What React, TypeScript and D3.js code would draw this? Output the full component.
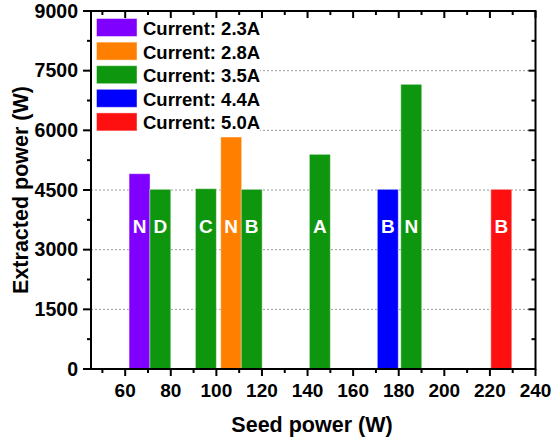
import React from 'react';
import * as d3 from 'd3';

const seedPower = [66.3, 75.4, 95.4, 106.5, 115.5, 145.4, 175.2, 185.5, 225];
const extractedPower = [4910, 4517, 4533, 5832, 4517, 5397, 4517, 7157, 4517];
const barCurrent = ['2.3A', '3.5A', '3.5A', '2.8A', '3.5A', '3.5A', '4.4A', '3.5A', '5.0A'];
const barLabels = ['N', 'D', 'C', 'N', 'B', 'A', 'B', 'N', 'B'];
const legendCurrents = ['2.3A', '2.8A', '3.5A', '4.4A', '5.0A'];
const legendColors = ['#8000FF', '#FF8000', '#0E960E', '#0000FF', '#FF1010'];
const xMajorTicks = [60, 80, 100, 120, 140, 160, 180, 200, 220, 240];
const xMinorTicks = [50, 70, 90, 110, 130, 150, 170, 190, 210, 230];
const yMajorTicks = [0, 1500, 3000, 4500, 6000, 7500, 9000];
const yMinorTicks = [750, 2250, 3750, 5250, 6750, 8250];
const gridValues = [1500, 3000, 4500, 6000, 7500];

const FONT = '"Liberation Sans", Arial, Helvetica, sans-serif';

export default function App() {
  const W = 554, H = 444;
  const L = 91, R = 535.5, T = 11, B = 369;
  const x = d3.scaleLinear().domain([45, 240]).range([L, R]);
  const y = d3.scaleLinear().domain([0, 9000]).range([B, T]);
  const color = d3.scaleOrdinal<string, string>().domain(legendCurrents).range(legendColors);
  const halfW = 4.6;

  return (
    <svg width={W} height={H} style={{ position: 'absolute', left: 0, top: 0, background: '#fff' }} fontFamily={FONT}>
      {gridValues.map(v => (
        <line key={'g' + v} x1={L} x2={R} y1={y(v)} y2={y(v)} stroke="#999" strokeWidth={1} strokeDasharray="2,2" />
      ))}
      <rect x={L + 1} y={T + 1} width={168} height={122} fill="#fff" />
      {seedPower.map((s, i) => (
        <rect key={'b' + i} x={x(s - halfW)} y={y(extractedPower[i])} width={x(s + halfW) - x(s - halfW)}
          height={y(0) - y(extractedPower[i])} fill={color(barCurrent[i])} stroke="rgba(255,255,255,0.45)" strokeWidth={1} />
      ))}
      {seedPower.map((s, i) => (
        <text key={'l' + i} x={x(s)} y={y(3420)} fill="#fff" fontSize={19} fontWeight="bold" textAnchor="middle">{barLabels[i]}</text>
      ))}
      {legendCurrents.map((c, i) => (
        <g key={'lg' + c} transform={`translate(0, ${18.5 + i * 23.6})`}>
          <rect x={96.5} y={0} width={40.5} height={18} fill={color(c)} stroke="rgba(255,255,255,0.45)" strokeWidth={1} />
          <text x={143} y={16.5} fontSize={18.5} fontWeight="bold" fill="#000">{`Current: ${c}`}</text>
        </g>
      ))}
      <g stroke="#000" strokeWidth={2}>
        {xMajorTicks.map(v => (
          <g key={'xm' + v}>
            <line x1={x(v)} x2={x(v)} y1={B} y2={B + 7} />
            <line x1={x(v)} x2={x(v)} y1={T} y2={T + 7} />
          </g>
        ))}
        {xMinorTicks.map(v => (
          <g key={'xn' + v}>
            <line x1={x(v)} x2={x(v)} y1={B} y2={B + 4} />
            <line x1={x(v)} x2={x(v)} y1={T} y2={T + 4} />
          </g>
        ))}
        {yMajorTicks.map(v => (
          <g key={'ym' + v}>
            <line x1={L - 8} x2={L} y1={y(v)} y2={y(v)} />
            <line x1={R - 7} x2={R} y1={y(v)} y2={y(v)} />
          </g>
        ))}
        {yMinorTicks.map(v => (
          <g key={'yn' + v}>
            <line x1={L - 4} x2={L} y1={y(v)} y2={y(v)} />
            <line x1={R - 4} x2={R} y1={y(v)} y2={y(v)} />
          </g>
        ))}
      </g>
      <rect x={L} y={T} width={R - L} height={B - T} fill="none" stroke="#000" strokeWidth={2} />
      {xMajorTicks.map(v => (
        <text key={'xt' + v} x={x(v)} y={397} fontSize={19} fontWeight="bold" textAnchor="middle">{v}</text>
      ))}
      {yMajorTicks.map(v => (
        <text key={'yt' + v} x={78} y={y(v) + 6.5} fontSize={19.5} fontWeight="bold" textAnchor="end">{v}</text>
      ))}
      <text x={312} y={432} fontSize={21.5} fontWeight="bold" textAnchor="middle">Seed power (W)</text>
      <text transform={`translate(28, ${(T + B) / 2}) rotate(-90)`} fontSize={21.5} fontWeight="bold" textAnchor="middle">Extracted power (W)</text>
    </svg>
  );
}
